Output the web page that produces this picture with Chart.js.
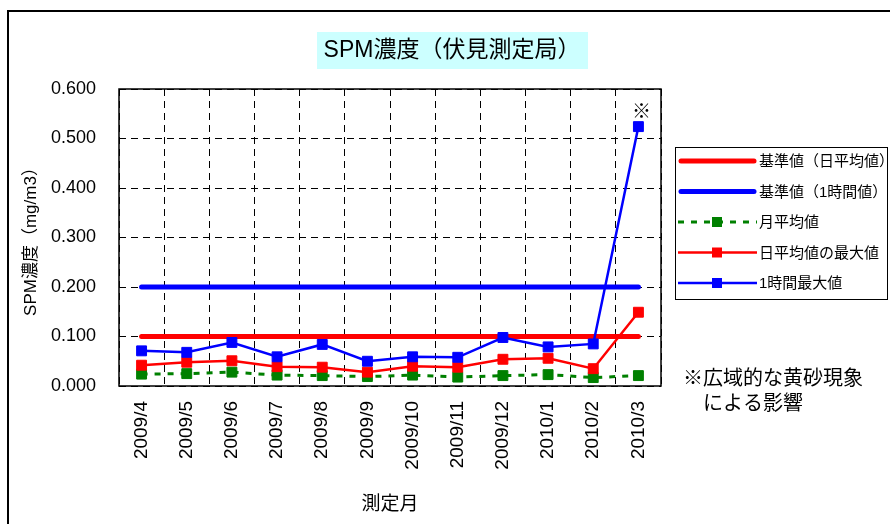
<!DOCTYPE html>
<html lang="ja">
<head>
<meta charset="utf-8">
<title>SPM濃度（伏見測定局）</title>
<script src="https://cdn.jsdelivr.net/npm/chart.js@4/dist/chart.umd.min.js"></script>
<style>
    html, body { margin: 0; padding: 0; background: #fff; }
    canvas { display: block; }
</style>
</head>
<body>
<canvas id="spmChart" width="890" height="524"></canvas>
<script>
// data
const months = ['2009/4', '2009/5', '2009/6', '2009/7', '2009/8', '2009/9',
                '2009/10', '2009/11', '2009/12', '2010/1', '2010/2', '2010/3'];
const monthlyAvg  = [0.024, 0.025, 0.028, 0.022, 0.021, 0.019, 0.022, 0.018, 0.021, 0.023, 0.017, 0.021];
const dailyAvgMax = [0.042, 0.048, 0.051, 0.039, 0.038, 0.028, 0.040, 0.038, 0.054, 0.056, 0.035, 0.149];
const hourlyMax   = [0.071, 0.068, 0.088, 0.059, 0.084, 0.050, 0.059, 0.058, 0.098, 0.079, 0.085, 0.524];
const stdDaily  = 0.100;
const stdHourly = 0.200;
const yTickLabels = ['0.000', '0.100', '0.200', '0.300', '0.400', '0.500', '0.600'];

const FONT = "'Liberation Sans', 'Noto Sans CJK JP', sans-serif";
const RED = '#ff0000', BLUE = '#0000ff', GREEN = '#008000';

const legendItems = [
    { text: '基準値（日平均値）', color: RED, width: 5, marker: false },
    { text: '基準値（1時間値）', color: BLUE, width: 5, marker: false },
    { text: '月平均値', color: GREEN, width: 3, dash: [6, 7], marker: true },
    { text: '日平均値の最大値', color: RED, width: 2.5, marker: true },
    { text: '1時間最大値', color: BLUE, width: 2.5, marker: true }
];

const decorations = {
    id: 'decorations',
    beforeDraw(chart) {
        const ctx = chart.ctx;
        ctx.save();
        ctx.fillStyle = '#fff';
        ctx.fillRect(0, 0, chart.width, chart.height);
        // outer frame
        ctx.strokeStyle = '#000';
        ctx.lineWidth = 2;
        ctx.strokeRect(8, 11, chart.width + 10, chart.height + 10);
        // title
        ctx.fillStyle = '#ccffff';
        ctx.fillRect(317, 32, 271, 37);
        ctx.fillStyle = '#000';
        ctx.font = '23px ' + FONT;
        ctx.textAlign = 'center';
        ctx.textBaseline = 'middle';
        ctx.fillText('SPM濃度（伏見測定局）', 452, 51);
        ctx.restore();
    },
    beforeDatasetsDraw(chart) {
        const {ctx, chartArea: a} = chart;
        ctx.save();
        ctx.strokeStyle = '#000';
        ctx.lineWidth = 1.5;
        ctx.strokeRect(a.left, a.top, a.right - a.left, a.bottom - a.top);
        ctx.restore();
    },
    afterDraw(chart) {
        const ctx = chart.ctx;
        ctx.save();
        // legend box
        ctx.fillStyle = '#fff';
        ctx.fillRect(675, 147, 213, 153);
        ctx.strokeStyle = '#000';
        ctx.lineWidth = 1;
        ctx.strokeRect(675.5, 147.5, 212, 152);
        legendItems.forEach((item, i) => {
            const y = 161 + i * 30.5;
            ctx.strokeStyle = item.color;
            ctx.lineWidth = item.width;
            ctx.lineCap = item.marker ? 'butt' : 'round';
            ctx.setLineDash(item.dash || []);
            ctx.beginPath();
            ctx.moveTo(item.marker ? 678 : 681, y);
            ctx.lineTo(item.marker ? 757 : 754, y);
            ctx.stroke();
            ctx.setLineDash([]);
            if (item.marker) {
                ctx.fillStyle = item.color;
                ctx.fillRect(712, y - 5, 10, 10);
            }
            ctx.fillStyle = '#000';
            ctx.font = '15px ' + FONT;
            ctx.textAlign = 'left';
            ctx.textBaseline = 'middle';
            ctx.fillText(item.text, 759, y + 1);
        });
        // ※ mark over the last hourly point
        const last = chart.getDatasetMeta(4).data[months.length - 1];
        ctx.fillStyle = '#000';
        ctx.font = '19px ' + FONT;
        ctx.textAlign = 'center';
        ctx.textBaseline = 'middle';
        ctx.fillText('※', last.x + 3, last.y - 14);
        // note
        ctx.font = '20px ' + FONT;
        ctx.textAlign = 'left';
        ctx.fillText('※広域的な黄砂現象', 683, 379);
        ctx.fillText('による影響', 703, 404);
        ctx.restore();
    }
};

const ctx = document.getElementById('spmChart').getContext('2d');
new Chart(ctx, {
    type: 'line',
    data: {
        labels: months,
        datasets: [
            {
                label: '基準値（日平均値）',
                data: months.map(() => stdDaily),
                borderColor: RED,
                borderWidth: 5,
                borderCapStyle: 'round',
                pointRadius: 0,
                order: 5
            },
            {
                label: '基準値（1時間値）',
                data: months.map(() => stdHourly),
                borderColor: BLUE,
                borderWidth: 5,
                borderCapStyle: 'round',
                pointRadius: 0,
                order: 4
            },
            {
                label: '月平均値',
                data: monthlyAvg,
                borderColor: GREEN,
                backgroundColor: GREEN,
                borderWidth: 3,
                borderDash: [6, 7],
                pointStyle: 'rect',
                pointRadius: 7,
                pointBorderWidth: 1,
                order: 3
            },
            {
                label: '日平均値の最大値',
                data: dailyAvgMax,
                borderColor: RED,
                backgroundColor: RED,
                borderWidth: 2.5,
                pointStyle: 'rect',
                pointRadius: 7,
                pointBorderWidth: 1,
                order: 2
            },
            {
                label: '1時間最大値',
                data: hourlyMax,
                borderColor: BLUE,
                backgroundColor: BLUE,
                borderWidth: 2.5,
                pointStyle: 'rect',
                pointRadius: 7,
                pointBorderWidth: 1,
                order: 1
            }
        ]
    },
    options: {
        responsive: false,
        animation: false,
        layout: {
            padding: { left: 0, top: 89, right: 229, bottom: 0 }
        },
        plugins: {
            legend: { display: false },
            title: { display: false },
            tooltip: { enabled: false }
        },
        scales: {
            x: {
                offset: true,
                grid: { offset: true, color: '#000', lineWidth: 1, drawTicks: false },
                border: { display: false, dash: [7, 5] },
                ticks: {
                    autoSkip: false,
                    maxRotation: 90,
                    minRotation: 90,
                    padding: 15,
                    color: '#000',
                    font: { family: FONT, size: 19 }
                },
                title: {
                    display: true,
                    text: '測定月',
                    color: '#000',
                    font: { family: FONT, size: 19 },
                    padding: { top: 0, bottom: 8 }
                },
                afterFit(scale) { scale.height = 138; }
            },
            y: {
                min: 0,
                max: 0.6,
                ticks: {
                    stepSize: 0.1,
                    padding: 23,
                    color: '#000',
                    font: { family: FONT, size: 18 },
                    callback: (value, index) => yTickLabels[index]
                },
                grid: { color: '#000', lineWidth: 1, drawTicks: false },
                border: { display: false, dash: [7, 5] },
                title: {
                    display: true,
                    text: 'SPM濃度（mg/m3）',
                    color: '#000',
                    font: { family: FONT, size: 17 },
                    padding: { top: 21, bottom: 0 }
                },
                afterFit(scale) { scale.width = 119; }
            }
        }
    },
    plugins: [decorations]
});
</script>
</body>
</html>
